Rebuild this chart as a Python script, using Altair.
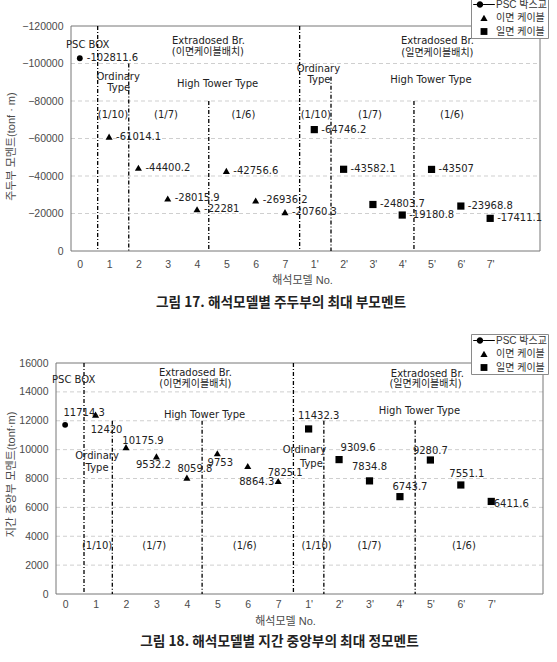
import json

import altair as alt
import pandas as pd

# ---- data -------------------------------------------------------------
MODEL_LABELS = ["0", "1", "2", "3", "4", "5", "6", "7",
                "1'", "2'", "3'", "4'", "5'", "6'", "7'"]
SERIES_NAMES = ["PSC 박스교", "이면 케이블", "일면 케이블"]
MODEL_SERIES = [SERIES_NAMES[0]] + [SERIES_NAMES[1]] * 7 + [SERIES_NAMES[2]] * 7

# maximum negative moment at the pier (tonf·m)
HOGGING_MOMENT = [-102811.6, -61014.1, -44400.2, -28015.9, -22281, -42756.6, -26936.2, -20760.3,
                  -64746.2, -43582.1, -24803.7, -19180.8, -43507, -23968.8, -17411.1]
# maximum positive moment at mid-span (tonf·m)
SAGGING_MOMENT = [11714.3, 12420, 10175.9, 9532.2, 8059.8, 9753, 8864.3, 7825.1,
                  11432.3, 9309.6, 7834.8, 6743.7, 9280.7, 7551.1, 6411.6]

HOGGING_TICKS = list(range(-120000, 1, 20000))
SAGGING_TICKS = list(range(0, 16001, 2000))

# group boundaries (model index) and the moment level where each divider starts
HOG_DIVIDER_X = [0.61, 1.67, 4.4, 7.5, 8.57, 11.4]
HOG_DIVIDER_TOP = [-120000, -100000, -80000, -120000, -93000, -80000]
SAG_DIVIDER_X = [0.62, 1.55, 4.5, 7.5, 8.5, 11.5]
SAG_DIVIDER_TOP = [16000, 12000, 12000, 16000, 12000, 12000]

NOTE_TEXT = ["PSC BOX", "Extradosed Br.", "(이면케이블배치)", "Ordinary", "Type",
             "High Tower Type", "(1/10)", "(1/7)", "(1/6)",
             "Extradosed Br.", "(일면케이블배치)", "Ordinary", "Type",
             "High Tower Type", "(1/10)", "(1/7)", "(1/6)"]
HOG_NOTE_X = [0.27, 4.39, 4.37, 1.31, 1.33, 4.7, 1.13, 2.94, 5.58,
              12.2, 12.2, 8.14, 8.16, 11.98, 8.05, 9.9, 12.7]
HOG_NOTE_Y = [-109900, -112000, -106100, -92800, -86900, -89100, -72500, -72500, -72500,
              -112000, -105600, -97100, -91200, -91200, -72500, -72500, -72500]
SAG_NOTE_X = [0.28, 4.28, 4.28, 1.05, 1.05, 4.58, 1.05, 2.93, 5.9,
              11.9, 11.84, 7.86, 8.09, 11.64, 8.26, 10.0, 13.1]
SAG_NOTE_Y = [14820, 15300, 14550, 9560, 8730, 12400, 3320, 3320, 3320,
              15240, 14550, 9970, 9000, 12680, 3320, 3320, 3320]

# pixel offsets of the value labels
HOG_LABEL_DX = [7] * 15
HOG_LABEL_DY = [0] * 15
SAG_LABEL_DX = [19, 11, 17, -3, 8, 3, 9, 7, 10, 19, 0, 10, 0, 6, 20]
SAG_LABEL_DY = [-12, 15, -6, 9, -9, 10, 16, -8, -13, -12, -14, -10, -9, -11, 3]

# ---- styling ------------------------------------------------------------
LATIN = "DejaVu Sans, Noto Sans CJK KR"
SANS = "Liberation Sans, Noto Sans CJK KR"
KOREAN = "Noto Sans CJK KR"
INK = "#222222"
FRAME = "#777777"
MARKERS = [("circle", 34), ("triangle-up", 50), ("square", 52)]
X_LEFT, X_RIGHT = -0.3, 15.7   # model-index range covered by the framed plot

# legend glyphs drawn as filled paths in a unit box (scaled by sqrt(symbolSize)/2)
LEGEND_GLYPHS = [
    # line through a dot
    "M-1.2,-0.06H-0.81V0.06H-1.2Z M-0.09,-0.06H1.2V0.06H-0.09Z "
    "M-0.81,0A0.36,0.36,0,1,1,-0.09,0A0.36,0.36,0,1,1,-0.81,0Z",
    "M0,-0.36L0.4,0.32L-0.4,0.32Z",
    "M-0.38,-0.38H0.38V0.38H-0.38Z",
]


def value_text(v):
    return f"{v:.1f}".rstrip("0").rstrip(".")


def moment_panel(values, ticks, reverse, y_title, div_x, div_top, note_x, note_y,
                 label_dx, label_dy, label_align, width, height, inset, x_label_pad,
                 x_title_x, x_title_y, y_title_x, y_title_y, legend_x, legend_y,
                 caption, caption_dx, caption_offset):
    # the group is `inset` px wider on the left than the framed plot
    step = (width - inset) / (X_RIGHT - X_LEFT)
    x_start = X_LEFT - inset / step
    y_lo, y_hi = min(ticks), max(ticks)

    df = pd.DataFrame({
        "idx": list(range(len(MODEL_LABELS))),
        "value": values,
        "series": MODEL_SERIES,
        "label": [value_text(v) for v in values],
    })
    x = alt.X(
        "idx:Q",
        scale=alt.Scale(domain=[x_start, X_RIGHT], nice=False, zero=False),
        axis=alt.Axis(
            values=list(range(len(MODEL_LABELS))),
            labelExpr=f"{json.dumps(MODEL_LABELS)}[datum.value]",
            labelOverlap=False, grid=False, ticks=False, domain=False,
            labelPadding=x_label_pad, title="해석모델 No.",
            titleX=x_title_x, titleY=x_title_y,
        ),
    )
    y = alt.Y(
        "value:Q",
        scale=alt.Scale(domain=[y_lo, y_hi], reverse=reverse, nice=False, zero=False),
        axis=alt.Axis(
            values=ticks, format="d", grid=False, ticks=False, domain=False,
            labelPadding=8, offset=-inset, title=y_title,
            titleX=y_title_x, titleY=y_title_y,
        ),
    )

    grid = alt.Chart(pd.DataFrame({
        "value": ticks[1:-1], "idx": X_LEFT, "idx2": X_RIGHT,
    })).mark_rule(color="#cfcfcf", strokeDash=[4, 3], strokeWidth=1).encode(
        x=x, x2="idx2:Q", y=y
    )

    frame = alt.Chart(pd.DataFrame({
        "idx": [X_LEFT, X_RIGHT, X_LEFT, X_LEFT],
        "idx2": [X_LEFT, X_RIGHT, X_RIGHT, X_RIGHT],
        "value": [y_lo, y_lo, y_lo, y_hi],
        "value2": [y_hi, y_hi, y_lo, y_hi],
    })).mark_rule(color=FRAME, strokeWidth=1).encode(
        x=x, x2="idx2:Q", y=y, y2="value2:Q"
    )

    dividers = alt.Chart(pd.DataFrame({"idx": div_x, "value": div_top, "base": [0] * len(div_x)})).mark_rule(
        color="black", strokeDash=[4, 2, 1, 2], strokeWidth=1.3
    ).encode(x=x, y=y, y2="base:Q")

    notes = alt.Chart(pd.DataFrame({"idx": note_x, "value": note_y, "note": NOTE_TEXT})).mark_text(
        font=LATIN, fontSize=10, color=INK, baseline="middle"
    ).encode(x=x, y=y, text="note:N")

    layers = [grid, frame, dividers, notes]

    for name, (shape, size) in zip(SERIES_NAMES, MARKERS):
        layers.append(
            alt.Chart(df).transform_filter(alt.datum.series == name).mark_point(
                filled=True, shape=shape, size=size, color="black", opacity=1
            ).encode(x=x, y=y)
        )

    for i in range(len(MODEL_LABELS)):
        layers.append(
            alt.Chart(df).transform_filter(alt.datum.idx == i).mark_text(
                font=LATIN, fontSize=10, color=INK, align=label_align, baseline="middle",
                dx=label_dx[i], dy=label_dy[i]
            ).encode(x=x, y=y, text="label:N")
        )

    # legend only: no rows are drawn, the symbols come from the shape scale
    legend_layer = alt.Chart(df).transform_filter("false").mark_point(
        filled=True, color="black", opacity=1
    ).encode(
        shape=alt.Shape(
            "series:N",
            scale=alt.Scale(domain=SERIES_NAMES, range=LEGEND_GLYPHS),
            legend=alt.Legend(
                title=None, orient="none", legendX=legend_x, legendY=legend_y,
                strokeColor="#8a8a8a", fillColor="white", padding=1, rowPadding=2.5,
                symbolSize=324, clipHeight=11, symbolOffset=3, symbolFillColor="black",
                symbolStrokeWidth=0, symbolOpacity=1, labelOffset=3,
                labelFont=SANS, labelFontSize=10, labelColor="#333333",
            ),
        )
    )
    layers.append(legend_layer)

    return alt.layer(*layers).properties(
        width=width, height=height,
        view=alt.ViewBackground(stroke="transparent"),
        title=alt.TitleParams(
            text=caption, orient="bottom", anchor="middle", dx=caption_dx,
            offset=caption_offset, font=KOREAN, fontSize=13.7, fontWeight="bold", color=INK,
        ),
    )


top = moment_panel(
    HOGGING_MOMENT, HOGGING_TICKS, True, "주두부 모멘트(tonf · m)",
    HOG_DIVIDER_X, HOG_DIVIDER_TOP, HOG_NOTE_X, HOG_NOTE_Y,
    HOG_LABEL_DX, HOG_LABEL_DY, "left", 484, 225, 15, 8,
    246, 23, -55, 120, 415, -28,
    "그림 17. 해석모델별 주두부의 최대 부모멘트", -17, 11,
)
bottom = moment_panel(
    SAGGING_MOMENT, SAGGING_TICKS, False, "지간 중앙부 모멘트(tonf·m)",
    SAG_DIVIDER_X, SAG_DIVIDER_TOP, SAG_NOTE_X, SAG_NOTE_Y,
    SAG_LABEL_DX, SAG_LABEL_DY, "center", 487, 231, 0, 5,
    229, 21, -40, 111, 415, -29,
    "그림 18. 해석모델별 지간 중앙부의 최대 정모멘트", -20, 9,
)

chart = alt.vconcat(top, bottom, spacing=22).resolve_scale(
    shape="independent"
).resolve_legend(
    shape="independent"
).properties(
    padding={"left": 4, "top": -3, "right": 0, "bottom": 0},
    background="white",
).configure_axis(
    labelFont="Liberation Sans", labelFontSize=10.5, labelColor="#4a4a4a",
    titleFont=SANS, titleFontSize=11, titleFontWeight="normal", titleColor="#4a4a4a",
)

chart.save("out.html", embed_options={"renderer": "svg", "actions": False})
